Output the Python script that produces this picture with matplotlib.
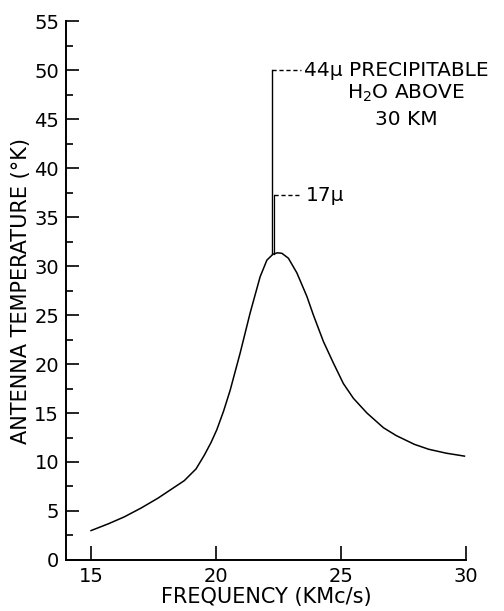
import matplotlib
matplotlib.use("Agg")
import matplotlib.pyplot as plt
from matplotlib.ticker import MultipleLocator

# Data
freq = [15.0, 15.7, 16.33, 17.0, 17.67, 18.2, 18.73, 19.2, 19.53, 19.8, 20.03,
        20.3, 20.56, 20.96, 21.36, 21.76, 22.03, 22.27, 22.45, 22.63, 22.89,
        23.23, 23.63, 23.89, 24.29, 24.69, 25.09, 25.49, 26.03, 26.69,
        27.2, 27.93, 28.5, 29.2, 29.93]
temp = [3.0, 3.7, 4.4, 5.3, 6.3, 7.2, 8.1, 9.3, 10.7, 12.0, 13.3,
        15.2, 17.3, 21.1, 25.2, 28.9, 30.6, 31.2, 31.35, 31.3, 30.8,
        29.3, 26.9, 25.0, 22.3, 20.1, 18.0, 16.5, 15.0, 13.5,
        12.7, 11.8, 11.3, 10.9, 10.6]

spike_freq = 22.25
spike_base = 31.2
spike_44 = 50.0
spike_17 = 37.2

xticks = [15, 20, 25, 30]
yticks = [0, 5, 10, 15, 20, 25, 30, 35, 40, 45, 50, 55]

fig = plt.figure(figsize=(5.04, 6.11), dpi=100)
ax = fig.add_axes([0.131, 0.0835, 0.794, 0.882])

ax.plot(freq, temp, color="black", lw=1.1)
ax.plot([spike_freq, spike_freq], [spike_base, spike_44], color="black", lw=1.0)
ax.plot([spike_freq + 0.07, spike_freq + 0.07], [spike_base, spike_17], color="black", lw=0.9)

# dashed leader lines
ax.plot([spike_freq, 23.4], [spike_44, spike_44], color="black", lw=1.0, ls=(0, (3, 2)))
ax.plot([spike_freq + 0.07, 23.4], [spike_17, spike_17], color="black", lw=1.0, ls=(0, (3, 2)))

fs = 14.5
ax.text(23.5, spike_44, "44\u03bc PRECIPITABLE", fontsize=fs, ha="left", va="center")
ax.text(27.6, 47.6, "H$_2$O ABOVE", fontsize=fs, ha="center", va="center")
ax.text(27.6, 45.0, "30 KM", fontsize=fs, ha="center", va="center")
ax.text(23.6, spike_17, "17\u03bc", fontsize=fs, ha="left", va="center")

ax.set_xlim(14, 30)
ax.set_ylim(0, 55)
ax.set_xticks(xticks)
ax.set_yticks(yticks)
ax.yaxis.set_minor_locator(MultipleLocator(2.5))

for s in ["top", "right"]:
    ax.spines[s].set_visible(False)
for s in ["left", "bottom"]:
    ax.spines[s].set_linewidth(1.4)

ax.tick_params(axis="y", which="major", direction="in", length=9, width=1.2,
               labelsize=14, pad=5)
ax.tick_params(axis="y", which="minor", direction="in", length=5, width=1.2)
ax.tick_params(axis="x", which="major", direction="in", length=10, width=1.2,
               labelsize=14, pad=5)

ax.set_xlabel("FREQUENCY (KMc/s)", fontsize=15, labelpad=1)
ax.set_ylabel("ANTENNA TEMPERATURE (\u00b0K)", fontsize=15, labelpad=2)

fig.savefig("out.png", dpi=100)
